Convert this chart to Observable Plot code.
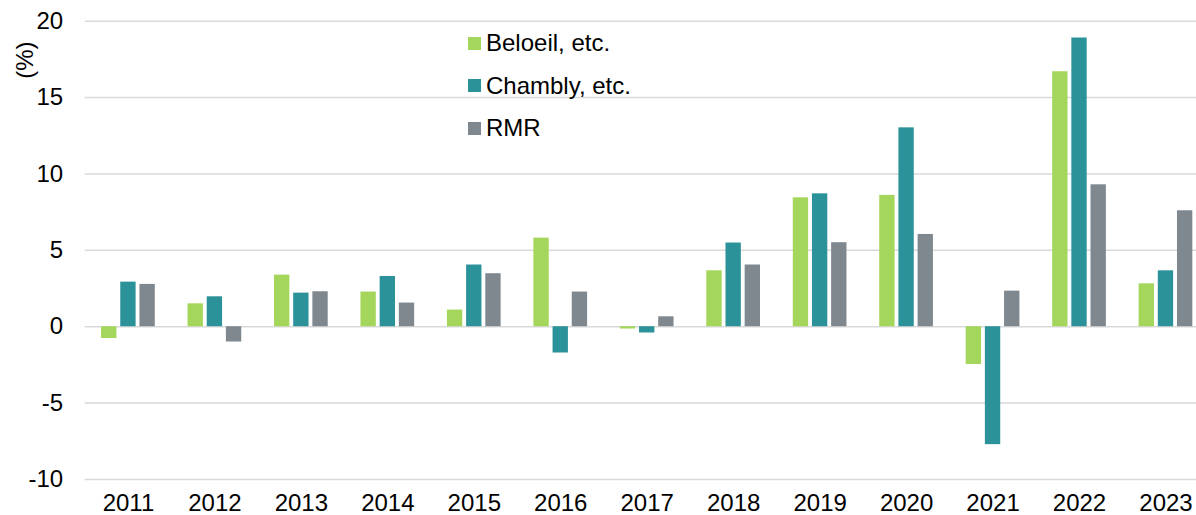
<!DOCTYPE html>
<html>
<head>
<meta charset="utf-8">
<script src="https://cdn.jsdelivr.net/npm/d3@7"></script>
<script src="https://cdn.jsdelivr.net/npm/@observablehq/plot@0.6"></script>
<style>
  html, body { margin: 0; padding: 0; background: #fff; overflow: hidden; }
  #wrap { position: relative; width: 1196px; height: 515px; font-family: "Liberation Sans", Arial, sans-serif; }
  #legend { position: absolute; left: 468px; top: 22px; font-size: 24px; color: #000; }
  #legend .row { display: flex; align-items: center; height: 42.5px; }
  #legend .sw { width: 13px; height: 13px; margin-right: 5px; }
</style>
</head>
<body>
<div id="wrap"></div>
<script>
const years = ["2011","2012","2013","2014","2015","2016","2017","2018","2019","2020","2021","2022","2023"];
const seriesNames = ["Beloeil, etc.", "Chambly, etc.", "RMR"];
const seriesColors = ["#A5D65C", "#2C9299", "#7F888E"];
const beloeil = [-0.77, 1.5, 3.38, 2.27, 1.09, 5.8, -0.15, 3.66, 8.44, 8.6, -2.47, 16.69, 2.81];
const chambly = [2.92, 1.96, 2.2, 3.29, 4.04, -1.72, -0.41, 5.48, 8.7, 13.02, -7.72, 18.9, 3.66];
const rmr = [2.77, -1.0, 2.29, 1.55, 3.47, 2.27, 0.65, 4.04, 5.5, 6.04, 2.33, 9.29, 7.59];
const yTicks = [-10, -5, 0, 5, 10, 15, 20];
const yLabel = "(%)";

const seriesValues = [beloeil, chambly, rmr];
const data = [];
years.forEach((yr, i) => {
  seriesNames.forEach((s, j) => {
    data.push({year: yr, series: s, value: seriesValues[j][i]});
  });
});

const chart = Plot.plot({
  width: 1196,
  height: 515,
  marginLeft: 84.7,
  marginRight: -12.7,
  marginTop: 20.7,
  marginBottom: 36,
  style: {fontFamily: "'Liberation Sans', Arial, sans-serif", fontSize: "24px", color: "#000", background: "#fff"},
  fx: {domain: years, padding: 0, round: false, label: null, axis: "bottom", tickSize: 0, tickPadding: 14},
  x: {domain: seriesNames, paddingInner: 0.2, paddingOuter: 0.854, round: false, axis: null},
  y: {domain: [-10, 20], label: null},
  color: {domain: seriesNames, range: seriesColors},
  marks: [
    Plot.ruleY(yTicks, {stroke: "#D9D9D9", strokeWidth: 1.5}),
    Plot.barY(data, {fx: "year", x: "series", y: "value", fill: "series"}),
    Plot.axisY({ticks: yTicks, tickSize: 0, tickPadding: 22, label: null, fontSize: 24, tickFormat: d => String(d)}),
    Plot.text([yLabel], {frameAnchor: "top-left", rotate: -90, dx: -60, dy: 39, textAnchor: "middle", lineAnchor: "middle", fontSize: 24, fill: "#000", facetAnchor: "left"})
  ]
});

const wrap = document.getElementById("wrap");
wrap.appendChild(chart);

const legend = document.createElement("div");
legend.id = "legend";
seriesNames.forEach((s, j) => {
  const row = document.createElement("div");
  row.className = "row";
  const sw = document.createElement("div");
  sw.className = "sw";
  sw.style.background = seriesColors[j];
  const t = document.createElement("span");
  t.textContent = s;
  row.appendChild(sw);
  row.appendChild(t);
  legend.appendChild(row);
});
wrap.appendChild(legend);
</script>
</body>
</html>
